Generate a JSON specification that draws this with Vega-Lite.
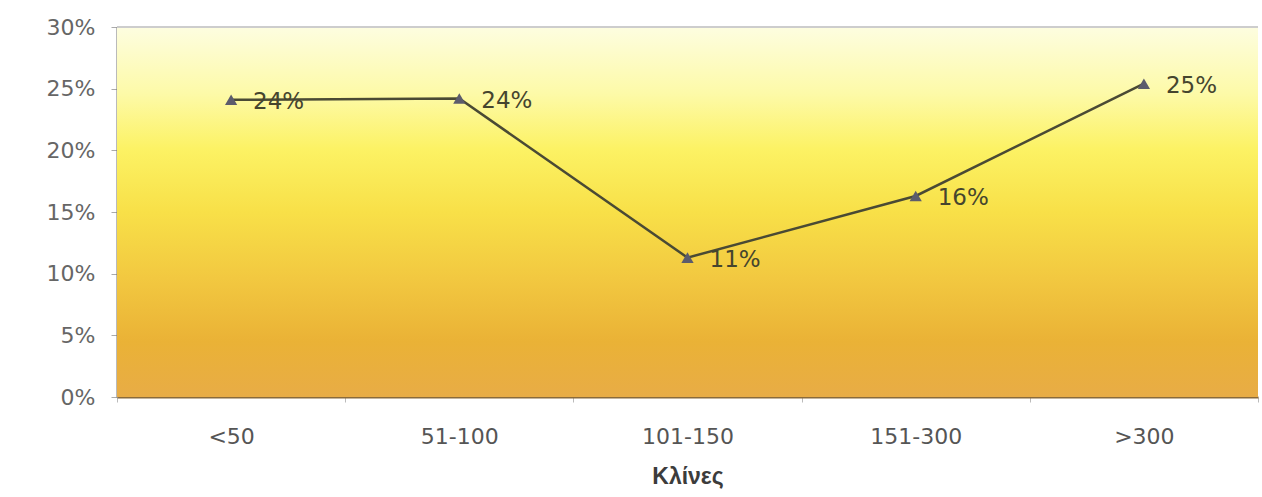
{
  "$schema": "https://vega.github.io/schema/vega-lite/v6.json",
  "autosize": {"type": "none"},
  "width": 1141,
  "height": 370,
  "padding": {"left": 117, "top": 27, "right": 4, "bottom": 100},
  "background": "#ffffff",
  "config": {
    "view": {"stroke": null},
    "font": "Liberation Sans"
  },
  "data": {
    "values": [
      {"beds": "<50", "share": 0.241},
      {"beds": "51-100", "share": 0.242},
      {"beds": "101-150", "share": 0.113},
      {"beds": "151-300", "share": 0.163},
      {"beds": ">300", "share": 0.254}
    ]
  },
  "encoding": {
    "x": {
      "field": "beds",
      "type": "nominal",
      "sort": null,
      "scale": {"paddingInner": 0, "paddingOuter": 0},
      "axis": {
        "title": "Κλίνες",
        "titleFont": "Liberation Sans",
        "titleFontSize": 23,
        "titleFontWeight": "bold",
        "titleColor": "#3c3c3c",
        "titlePadding": 18,
        "labelAngle": 0,
        "labelFont": "DejaVu Sans",
        "labelFontSize": 22,
        "labelColor": "#555555",
        "labelPadding": 24,
        "tickBand": "extent",
        "tickSize": 5,
        "tickColor": "#bbbbbb",
        "domainColor": "#8a6a3a",
        "domainWidth": 2,
        "grid": false
      }
    },
    "y": {
      "field": "share",
      "type": "quantitative",
      "scale": {"domain": [0, 0.3], "nice": false},
      "axis": {
        "title": null,
        "format": ".0%",
        "values": [0, 0.05, 0.1, 0.15, 0.2, 0.25, 0.3],
        "labelFont": "DejaVu Sans",
        "labelFontSize": 22,
        "labelColor": "#666666",
        "labelPadding": 16,
        "tickSize": 6,
        "tickColor": "#aaaaaa",
        "domainColor": "#777777",
        "domainWidth": 2,
        "grid": false
      }
    }
  },
  "layer": [
    {
      "mark": {
        "type": "rect",
        "fill": {
          "gradient": "linear",
          "x1": 0, "y1": 0, "x2": 0, "y2": 1,
          "stops": [
            {"offset": 0, "color": "#fdfde0"},
            {"offset": 0.18, "color": "#fdfaa8"},
            {"offset": 0.33, "color": "#fcf264"},
            {"offset": 0.5, "color": "#f8e048"},
            {"offset": 0.68, "color": "#f2c840"},
            {"offset": 0.85, "color": "#eab236"},
            {"offset": 1, "color": "#e8ac46"}
          ]
        }
      },
      "encoding": {
        "x": {"value": 0},
        "x2": {"value": "width"},
        "y": {"datum": 0.3},
        "y2": {"datum": 0}
      }
    },
    {
      "mark": {"type": "rule", "color": "#cccccc", "strokeWidth": 1.5},
      "encoding": {
        "x": {"value": 0},
        "x2": {"value": "width"},
        "y": {"datum": 0.3}
      }
    },
    {
      "mark": {"type": "line", "color": "#4a4a34", "strokeWidth": 2.5}
    },
    {
      "mark": {"type": "point", "shape": "triangle-up", "filled": true, "color": "#5c5c6c", "size": 150, "opacity": 1}
    },
    {
      "mark": {"type": "text", "align": "left", "baseline": "middle", "dx": 22, "dy": 2, "font": "DejaVu Sans", "fontSize": 23, "color": "#45452e"},
      "encoding": {
        "text": {"field": "share", "type": "quantitative", "format": ".0%"}
      }
    }
  ]
}
